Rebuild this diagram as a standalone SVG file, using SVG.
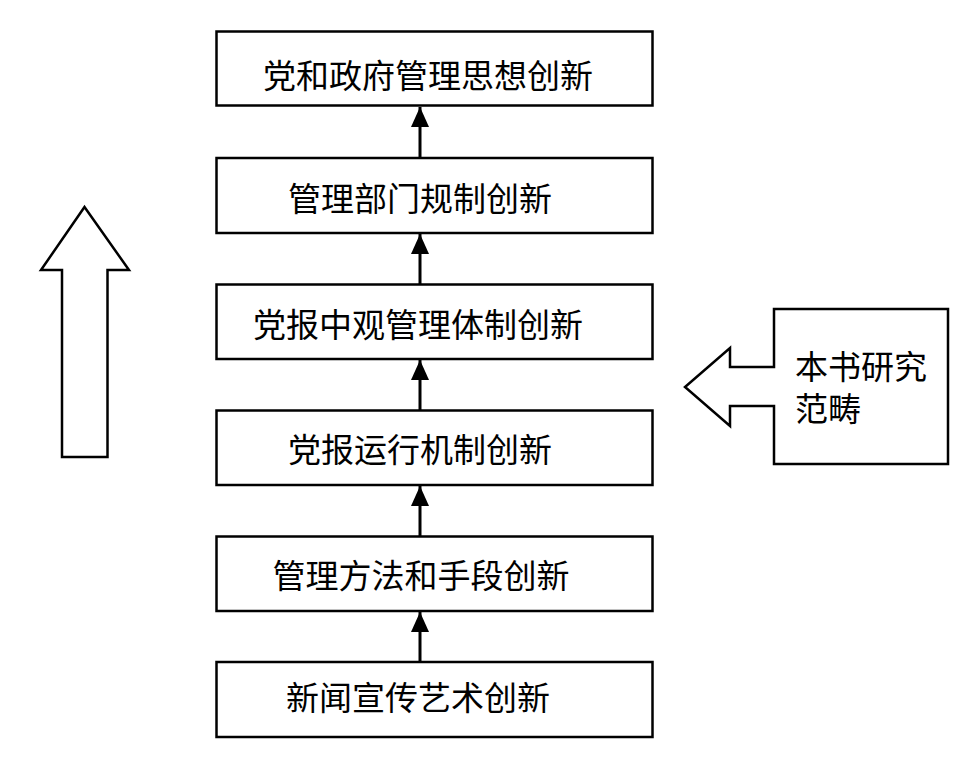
<svg xmlns="http://www.w3.org/2000/svg" width="965" height="766" viewBox="0 0 965 766">
<style>
.box{fill:#fff;stroke:#000;stroke-width:2.5}
.lbl{font-family:"Noto Sans CJK SC","Noto Sans CJK JP",sans-serif;font-size:33px;fill:#000;text-anchor:middle;dominant-baseline:central}
.conn{stroke:#000;stroke-width:3;fill:none}
.big{fill:#fff;stroke:#000;stroke-width:2.5;stroke-linejoin:miter}
</style>
<defs>
<marker id="ah" markerUnits="userSpaceOnUse" markerWidth="20" markerHeight="22" refX="20" refY="9" orient="auto" viewBox="0 0 20 18">
<path d="M0,0 L20,9 L0,18 Z" fill="#000"/>
</marker>
</defs>
<rect width="965" height="766" fill="#fff"/>
<g id="n1"><rect class="box" x="216.5" y="31.5" width="436" height="74"/><text class="lbl" x="428" y="73.5">党和政府管理思想创新</text></g>
<g id="n2"><rect class="box" x="216.5" y="158" width="436" height="75"/><text class="lbl" x="420" y="197">管理部门规制创新</text></g>
<g id="n3"><rect class="box" x="216.5" y="284.5" width="436" height="74.5"/><text class="lbl" x="418" y="322.5">党报中观管理体制创新</text></g>
<g id="n4"><rect class="box" x="216.5" y="410.5" width="436" height="74.5"/><text class="lbl" x="420" y="448">党报运行机制创新</text></g>
<g id="n5"><rect class="box" x="216.5" y="536.5" width="436" height="74.5"/><text class="lbl" x="421" y="574">管理方法和手段创新</text></g>
<g id="n6"><rect class="box" x="216.5" y="662" width="436" height="75"/><text class="lbl" x="418" y="696">新闻宣传艺术创新</text></g>
<g id="connectors">
<line class="conn" x1="420" y1="158" x2="420" y2="107" marker-end="url(#ah)"/>
<line class="conn" x1="420" y1="284" x2="420" y2="234" marker-end="url(#ah)"/>
<line class="conn" x1="420" y1="410" x2="420" y2="360" marker-end="url(#ah)"/>
<line class="conn" x1="420" y1="536" x2="420" y2="486" marker-end="url(#ah)"/>
<line class="conn" x1="420" y1="662" x2="420" y2="612" marker-end="url(#ah)"/>
</g>
<g id="trend-arrow"><polygon class="big" points="84.5,207 129,270 107.5,270 107.5,457 62,457 62,270 41,270"/></g>
<g id="scope"><polygon class="big" points="774,309 948,309 948,464 774,464 774,406 730,406 730,426 685,387 730,348 730,367 774,367"/>
<text class="lbl" style="text-anchor:start" x="795" y="365">本书研究</text>
<text class="lbl" style="text-anchor:start" x="795" y="407">范畴</text></g>
</svg>
